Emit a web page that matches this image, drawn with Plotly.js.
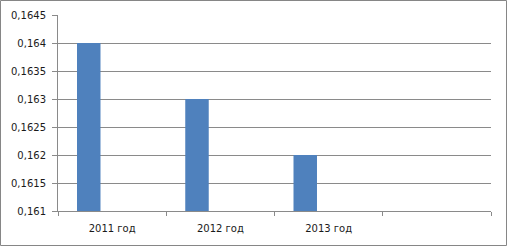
<!DOCTYPE html>
<html><head><meta charset="utf-8">
<script src="https://cdn.plot.ly/plotly-3.0.1.min.js"></script>
<style>html,body{margin:0;padding:0;background:#fff;}#chart{width:508px;height:246px;}</style>
</head><body><div id="chart"></div>
<script>
// Data
const categories = ["2011 год", "2012 год", "2013 год", ""];
const values = [0.164, 0.163, 0.162, null];
const yTicks = [0.161, 0.1615, 0.162, 0.1625, 0.163, 0.1635, 0.164, 0.1645];

const xPos = categories.map((c, i) => i);
const yTickText = yTicks.map(v => String(v).replace('.', ','));
const boundaries = categories.map((c, i) => i - 0.5).concat([categories.length - 0.5]);

const grid = '#8a8a8a';
const trace = {
  type: 'bar',
  x: xPos,
  y: values,
  marker: {color: '#4F81BD', line: {width: 0}},
  width: 0.217,
  offset: -0.3245,
  hoverinfo: 'skip',
  cliponaxis: true
};

const layout = {
  width: 508, height: 246,
  margin: {l: 58, r: 17, t: 15, b: 35, pad: 0},
  paper_bgcolor: '#fff', plot_bgcolor: '#fff',
  showlegend: false,
  font: {family: 'DejaVu Sans, sans-serif', size: 10, color: '#1a1a1a'},
  xaxis: {
    range: [-0.5, categories.length - 0.5],
    tickvals: xPos.slice(0, 3),
    ticktext: categories.slice(0, 3),
    ticks: '', showgrid: false, zeroline: false,
    showline: true, linecolor: grid, linewidth: 1,
    ticklabelstandoff: 8,
    minor: {tickvals: boundaries, ticks: 'outside', ticklen: 4, tickcolor: grid, tickwidth: 1, showgrid: false},
    fixedrange: true
  },
  yaxis: {
    range: [0.161, 0.1645],
    tickvals: yTicks, ticktext: yTickText,
    ticks: 'outside', ticklen: 5, tickcolor: grid, tickwidth: 1,
    showgrid: true, gridcolor: grid, gridwidth: 1,
    zeroline: false, showline: true, linecolor: grid, linewidth: 1,
    ticklabelstandoff: 4,
    fixedrange: true
  },
  shapes: [{
    type: 'rect', xref: 'paper', yref: 'paper',
    x0: (0.5 - 58) / 433, x1: (507 - 58 - 0.5) / 433,
    y0: (211 - 245.5) / 196, y1: (211 - 0.5) / 196,
    line: {color: '#868686', width: 1}, fillcolor: 'rgba(0,0,0,0)', layer: 'below'
  }]
};
Plotly.newPlot('chart', [trace], layout, {staticPlot: true, displayModeBar: false});
</script>
</body></html>
